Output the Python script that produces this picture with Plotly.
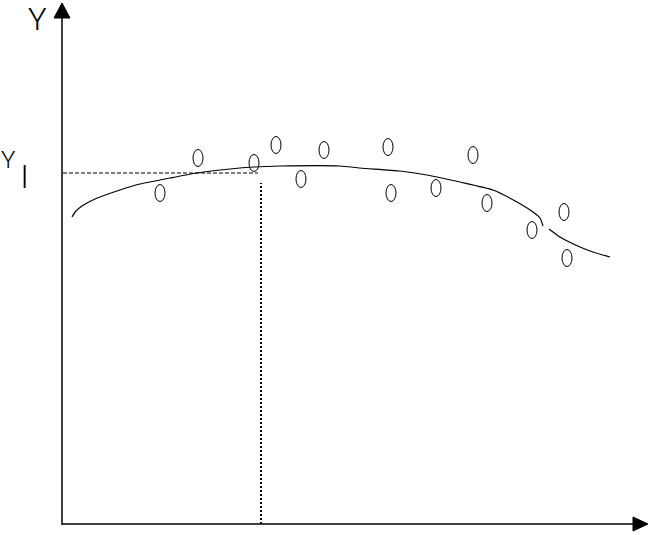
import plotly.graph_objects as go

obs_x = [98, 136, 192, 214, 239, 262, 326, 329, 374, 411, 425, 470, 502, 505]
obs_y = [331, 366, 361, 379, 345, 374, 377, 331, 336, 369, 321, 294, 312, 266]

# Fitted curve, first segment
fit1_x = [10, 14, 20, 33, 58, 78, 108, 135, 168, 192, 218, 278, 298, 338, 365, 398, 431, 455, 471, 478, 481]
fit1_y = [307, 313, 318, 325, 334, 340, 346, 351, 355, 357, 358, 358, 356, 353, 349, 342, 334, 322, 312, 306, 298]
# Fitted curve, second segment
fit2_x = [487, 498, 518, 531, 548]
fit2_y = [295, 287, 277, 272, 267]

# Reference level Y_l and its abscissa
yl_level = 351
yl_x = 199
dash_end = 196
vline_top = 341

# Axis extents
x_axis_end = 571
y_axis_end = 506

fig = go.Figure()

fig.add_trace(go.Scatter(x=fit1_x, y=fit1_y, mode="lines",
                         line=dict(color="black", width=1.2, shape="spline", smoothing=0.6),
                         hoverinfo="skip", showlegend=False))
fig.add_trace(go.Scatter(x=fit2_x, y=fit2_y, mode="lines",
                         line=dict(color="black", width=1.2, shape="spline", smoothing=0.6),
                         hoverinfo="skip", showlegend=False))

shapes = []
rx, ry = 5, 8.5
for xv, yv in zip(obs_x, obs_y):
    shapes.append(dict(type="circle", xref="x", yref="y",
                       x0=xv - rx, x1=xv + rx, y0=yv - ry, y1=yv + ry,
                       line=dict(color="black", width=1)))

# dashed horizontal to Y_l
shapes.append(dict(type="line", xref="x", yref="y", x0=1, x1=dash_end, y0=yl_level, y1=yl_level,
                   line=dict(color="black", width=1, dash="4px,2px")))
# dotted vertical
shapes.append(dict(type="line", xref="x", yref="y", x0=yl_x, x1=yl_x, y0=0, y1=vline_top,
                   line=dict(color="black", width=2, dash="2px,2px")))
# axes
shapes.append(dict(type="line", xref="x", yref="y", x0=0, x1=0, y0=-1, y1=y_axis_end,
                   line=dict(color="black", width=1.5)))
shapes.append(dict(type="line", xref="x", yref="y", x0=0, x1=x_axis_end, y0=0, y1=0,
                   line=dict(color="black", width=1.5)))
# arrow heads
shapes.append(dict(type="path", xref="x", yref="y",
                   path="M -8 506 L 8 506 L 0 521 Z", fillcolor="black", line=dict(color="black", width=1)))
shapes.append(dict(type="path", xref="x", yref="y",
                   path="M 571 -7 L 571 7 L 586 0 Z", fillcolor="black", line=dict(color="black", width=1)))

fig.update_layout(shapes=shapes)

fnt = "Roboto, Liberation Sans, sans-serif"
fig.add_annotation(x=-24.5, y=524, yanchor="top", borderpad=0, text="Y", showarrow=False,
                   xref="x", yref="y",
                   font=dict(family=fnt, size=31, color="black", weight=300))
fig.add_annotation(x=-53.5, y=364, text="Y", showarrow=False, xref="x", yref="y",
                   font=dict(family=fnt, size=24, color="black", weight=300))
fig.add_annotation(x=-38, y=347, text="l", showarrow=False, xref="x", yref="y",
                   font=dict(family=fnt, size=32, color="black", weight=300))

fig.update_xaxes(range=[-62, 590], visible=False, showgrid=False, zeroline=False)
fig.update_yaxes(range=[-11, 524], visible=False, showgrid=False, zeroline=False)
fig.update_layout(width=652, height=535, margin=dict(l=0, r=0, t=0, b=0, pad=0),
                  plot_bgcolor="white", paper_bgcolor="white", showlegend=False)

fig.write_html("out.html", config={"displayModeBar": False},
               post_script="document.body.style.margin='0px';")
